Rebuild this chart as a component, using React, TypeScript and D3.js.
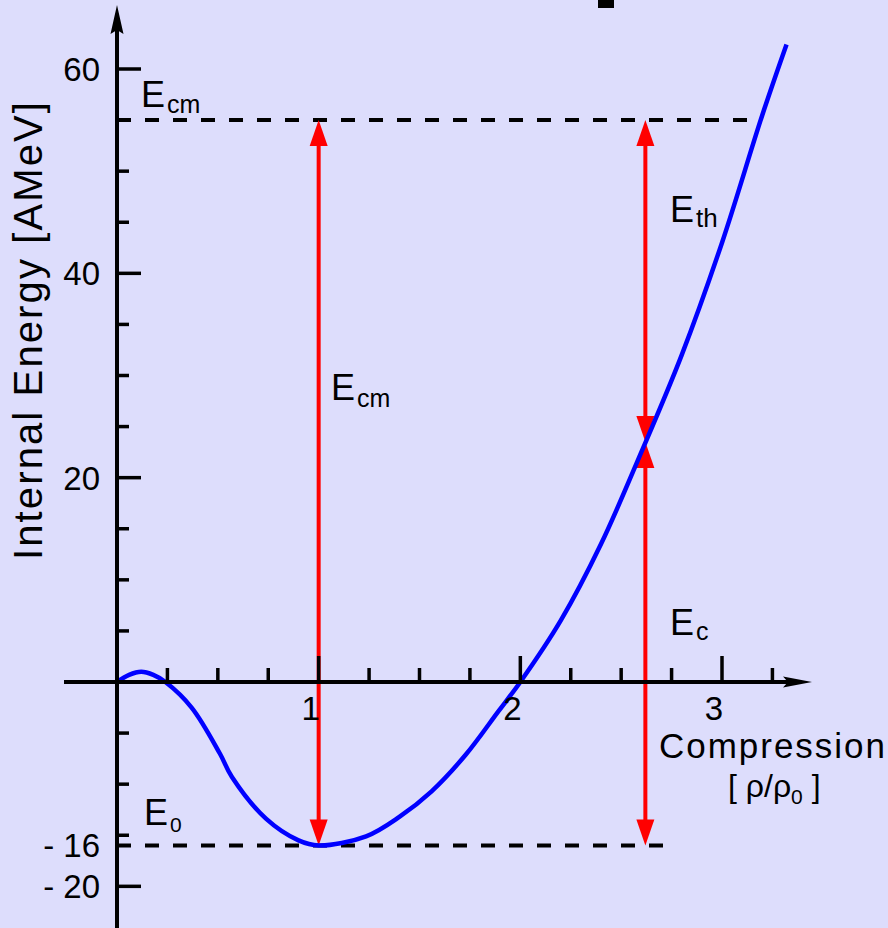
import React from 'react'
import * as d3 from 'd3'

// curve: compression (rho/rho0) vs internal energy (AMeV)
const compression = [0, 0.06, 0.12, 0.18, 0.24, 0.37, 0.51, 0.57, 0.74, 0.9, 1.0, 1.235, 1.4, 1.56, 1.73, 1.89, 2.0, 2.2, 2.4, 2.6, 2.8, 3.0, 3.2, 3.32]
const energy = [0, 0.7, 1.0, 0.7, 0, -2.5, -7, -9.3, -13.4, -15.5, -16, -15.1, -13.2, -10.7, -7.1, -2.9, 0, 6.0, 13.5, 22.5, 32.0, 43.0, 55.5, 62.4]

const xMajorTicks = [1, 2, 3]
const xMinorTicks = [0.25, 0.5, 0.75, 1.25, 1.5, 1.75, 2.25, 2.5, 2.75, 3.25]
const yMajorTicks = [60, 40, 20, -20]
const yMinorTicks = [55, 50, 45, 35, 30, 25, 15, 10, 5, -5, -10, -15]
const yTickLabels = [
  { value: 60, text: '60' },
  { value: 40, text: '40' },
  { value: 20, text: '20' },
  { value: -16, text: '- 16' },
  { value: -20, text: '- 20' }
]

// energy levels and arrows
const eCm = 55
const e0 = -16
const eCmLineEnd = 3.17
const e0LineEnd = 2.75
const arrowLeftX = 1.0
const arrowRightX = 2.62
const eCross = 23.5

const W = 888
const H = 928
const font = '"Liberation Sans", Arial, Helvetica, sans-serif'

export default function App() {
  const x = d3.scaleLinear().domain([0, 3]).range([117, 722])
  const y = d3.scaleLinear().domain([0, 60]).range([682, 69])

  const points = compression.map((c, i) => ({ c, e: energy[i] }))
  const line = d3.line<{ c: number; e: number }>()
    .x(d => x(d.c))
    .y(d => y(d.e))
    .curve(d3.curveCatmullRom.alpha(0.5))

  const headLen = 26
  const headW = 9
  const head = (px: number, tipY: number, dir: number) => {
    // dir = -1 up, 1 down
    const baseY = tipY - dir * headLen
    return `M${px},${tipY}L${px - headW},${baseY}L${px + headW},${baseY}Z`
  }

  const arrow = (cx: number, from: number, to: number, key: string) => {
    const px = x(cx)
    const top = y(from)
    const bottom = y(to)
    return (
      <g key={key}>
        <line x1={px} x2={px} y1={top + 10} y2={bottom - 10} stroke="#ff0000" strokeWidth={4} />
        <path d={head(px, top, -1)} fill="#ff0000" />
        <path d={head(px, bottom, 1)} fill="#ff0000" />
      </g>
    )
  }

  const eLabel = (px: number, py: number, sub: string, dy: number, subSize = 25) => (
    <text x={px} y={py} fontSize={36} fontFamily={font} fill="#000">
      E<tspan dx={2} dy={dy} fontSize={subSize}>{sub}</tspan>
    </text>
  )

  return (
    <svg width={W} height={H} style={{ display: 'block', position: 'absolute', left: 0, top: 0 }}>
      <rect width={W} height={H} fill="#ddddfc" />

      {/* stray mark at top */}
      <rect x={598} y={0} width={16} height={8} fill="#000" />

      {/* dashed energy levels */}
      <line x1={x(0)} x2={x(eCmLineEnd)} y1={y(eCm)} y2={y(eCm)} stroke="#000" strokeWidth={4} strokeDasharray="14 14" />
      <line x1={x(0)} x2={x(e0LineEnd)} y1={y(e0)} y2={y(e0)} stroke="#000" strokeWidth={4} strokeDasharray="14 14" />

      {/* red arrows */}
      {arrow(arrowLeftX, eCm, e0, 'a1')}
      {arrow(arrowRightX, eCm, eCross, 'a2')}
      {arrow(arrowRightX, eCross, e0, 'a3')}

      {/* curve */}
      <path d={line(points) || ''} fill="none" stroke="#0000ff" strokeWidth={4.5} strokeLinejoin="round" />

      {/* y axis */}
      <line x1={x(0)} x2={x(0)} y1={30} y2={H} stroke="#000" strokeWidth={4} />
      <path d={`M${x(0)},5L${x(0) - 6.5},34L${x(0)},30L${x(0) + 6.5},34Z`} fill="#000" />
      {yMajorTicks.map(v => (
        <line key={'ym' + v} x1={x(0)} x2={x(0) + 24} y1={y(v)} y2={y(v)} stroke="#000" strokeWidth={3.5} />
      ))}
      {yMinorTicks.map(v => (
        <line key={'yn' + v} x1={x(0)} x2={x(0) + 12} y1={y(v)} y2={y(v)} stroke="#000" strokeWidth={3.5} />
      ))}
      {yTickLabels.map(t => (
        <text key={'yl' + t.value} x={100} y={y(t.value) + 12} textAnchor="end" fontSize={33} fontFamily={font} fill="#000">
          {t.text}
        </text>
      ))}

      {/* x axis */}
      <line x1={64} x2={790} y1={y(0)} y2={y(0)} stroke="#000" strokeWidth={4} />
      <path d={`M812,${y(0)}L783,${y(0) - 5.5}L788,${y(0)}L783,${y(0) + 5.5}Z`} fill="#000" />
      {xMajorTicks.map(v => (
        <line key={'xm' + v} x1={x(v)} x2={x(v)} y1={y(0)} y2={y(0) - 26} stroke="#000" strokeWidth={3.5} />
      ))}
      {xMinorTicks.map(v => (
        <line key={'xn' + v} x1={x(v)} x2={x(v)} y1={y(0)} y2={y(0) - 14} stroke="#000" strokeWidth={3.5} />
      ))}
      {xMajorTicks.map(v => (
        <text key={'xl' + v} x={x(v) - 8} y={720} textAnchor="middle" fontSize={33} fontFamily={font} fill="#000">
          {v}
        </text>
      ))}

      {/* axis titles */}
      <text
        transform="translate(42,331) rotate(-90)"
        textAnchor="middle"
        fontSize={40}
        fontFamily={font}
        fill="#000"
        textLength={458}
        lengthAdjust="spacing"
      >
        Internal Energy [AMeV]
      </text>
      <text x={659} y={758} fontSize={35} fontFamily={font} fill="#000" textLength={226} lengthAdjust="spacing">
        Compression
      </text>
      <text x={728} y={797} fontSize={32} fontFamily={font} fill="#000">
        [ ρ/ρ<tspan dy={7} fontSize={21}>0</tspan><tspan dy={-7}> ]</tspan>
      </text>

      {/* energy labels */}
      {eLabel(141, 107, 'cm', 6)}
      {eLabel(331, 400, 'cm', 7)}
      {eLabel(670, 222, 'th', 5, 26)}
      {eLabel(670, 635, 'c', 5)}
      {eLabel(144, 825, '0', 7, 21)}
    </svg>
  )
}
